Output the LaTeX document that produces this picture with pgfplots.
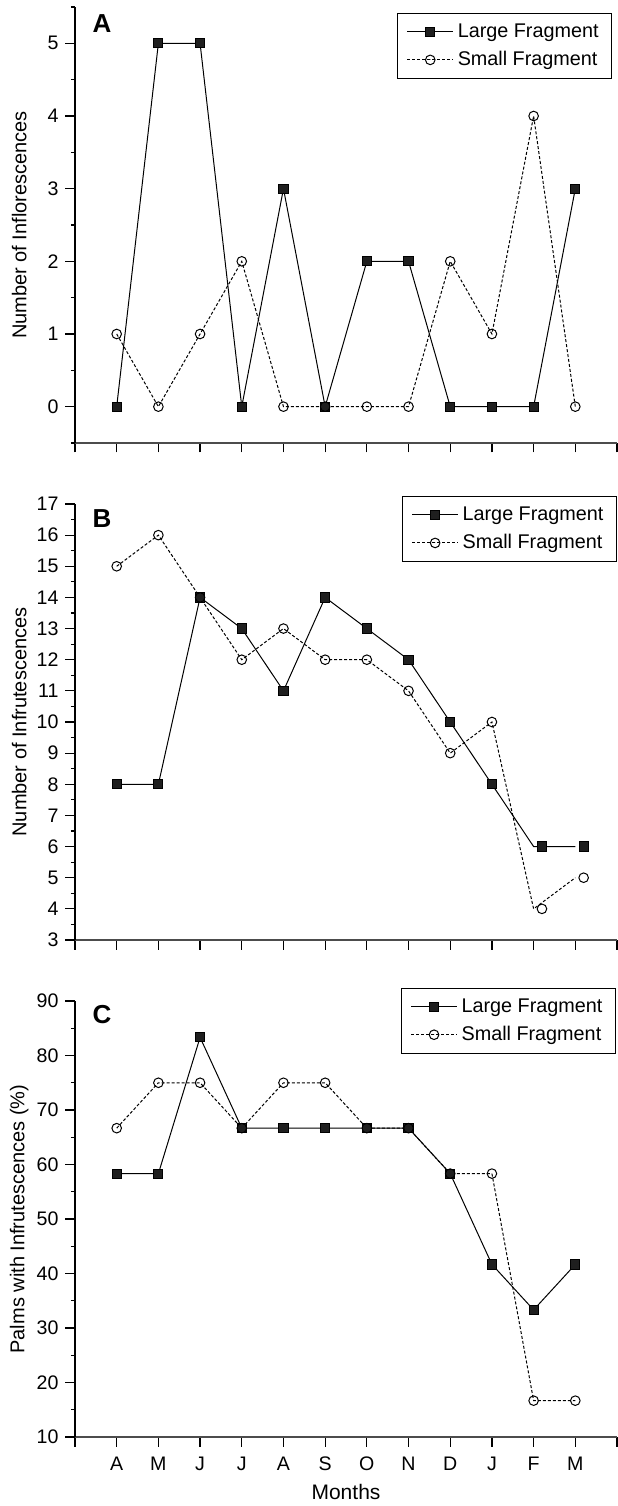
\documentclass[border=0pt]{standalone}
\usepackage{fontspec}
\setmainfont{Liberation Sans}
\usepackage{pgfplots}
\pgfplotsset{compat=1.18}

\pgfplotsset{
  panel/.style={
    scale only axis, width=271pt, height=218pt,
    axis x line*=bottom, axis y line*=left,
    xmin=0, xmax=13, xtick={0,...,13},
    tick align=outside, major tick length=4.75pt, minor tick length=2pt,
    tick style={black, line width=0.6pt},
    x axis line style={line width=1pt, black!70},
    y axis line style={line width=0.75pt},
    ticklabel style={font=\fontsize{9.8}{11}\selectfont},
    xticklabel style={yshift=-1.5pt},
    /pgf/number format/assume math mode=true,
    label style={font=\fontsize{10.5}{12}\selectfont},
    every axis y label/.style={at={(axis description cs:-0.103,0.5)}, rotate=90, anchor=center},
    legend style={draw=black, line width=0.5pt, font=\fontsize{9.9}{11}\selectfont,
      inner xsep=4.5pt, inner ysep=3pt, row sep=1.5pt,
      /tikz/every even column/.append style={column sep=3.5pt}},
    legend cell align=left,
    legend image code/.code={\draw[mark repeat=2,mark phase=2,#1] plot coordinates {(0pt,0pt) (11.5pt,0pt) (23pt,0pt)};},
  },
  large/.style={black, line width=0.5pt, mark=square*, mark size=2.3pt, mark options={solid, fill=black!88}},
  small/.style={black, line width=0.5pt, dash pattern=on 1.5pt off 1pt, mark=o, mark size=2.4pt, mark options={solid, fill=white}},
}

\begin{document}
\begin{tikzpicture}
% A: inflorescences
\begin{axis}[panel, at={(0,0)},
  ymin=-0.5, ymax=5.5, ytick={0,...,5}, minor ytick={-0.5,0.5,...,5.5},
  xticklabels={},
  ylabel={Number of Inflorescences},
  legend style={at={(rel axis cs:0.991,0.986)}, anchor=north east}]
\coordinate (tr) at (rel axis cs:1,1);
\addplot[large] coordinates {(1,0) (2,5) (3,5) (4,0) (5,3) (6,0) (7,2) (8,2) (9,0) (10,0) (11,0) (12,3)};
\addplot[small] coordinates {(1,1) (2,0) (3,1) (4,2) (5,0) (6,0) (7,0) (8,0) (9,2) (10,1) (11,4) (12,0)};
\legend{Large Fragment, Small Fragment}
\node[font=\bfseries\fontsize{13}{13}\selectfont] at (rel axis cs:0.05,0.963) {A};
\end{axis}

% B: infrutescences
\begin{axis}[panel, at={(0,-248.5pt)},
  ymin=3, ymax=17, ytick={3,...,17}, minor ytick={3.5,4.5,...,16.5},
  xticklabels={},
  ylabel={Number of Infrutescences},
  legend style={at={(rel axis cs:1.0,1.018)}, anchor=north east}]
\addlegendimage{large}\addlegendentry{Large Fragment}
\addlegendimage{small}\addlegendentry{Small Fragment}
\addplot[large, mark=none, forget plot] coordinates {(1,8) (2,8) (3,14) (4,13) (5,11) (6,14) (7,13) (8,12) (9,10) (10,8) (11,6) (12,6)};
\addplot[small, mark=none, forget plot] coordinates {(1,15) (2,16) (3,14) (4,12) (5,13) (6,12) (7,12) (8,11) (9,9) (10,10) (11,4) (12,5)};
\addplot[large, only marks, forget plot] coordinates {(1,8) (2,8) (3,14) (4,13) (5,11) (6,14) (7,13) (8,12) (9,10) (10,8) (11.2,6) (12.2,6)};
\addplot[small, only marks, forget plot] coordinates {(1,15) (2,16) (3,14) (4,12) (5,13) (6,12) (7,12) (8,11) (9,9) (10,10) (11.2,4) (12.2,5)};
\node[font=\bfseries\fontsize{13}{13}\selectfont] at (rel axis cs:0.05,0.966) {B};
\end{axis}

% C: palms with infrutescences
\begin{axis}[panel, at={(0,-497pt)},
  ymin=10, ymax=90, ytick={10,20,...,90}, minor ytick={15,25,...,85},
  xticklabels={,A,M,J,J,A,S,O,N,D,J,F,M,},
  xlabel={Months}, ylabel={Palms with Infrutescences (\%)},
  legend style={at={(rel axis cs:0.998,1.030)}, anchor=north east}]
\coordinate (bl) at (rel axis cs:0,0);
\addplot[large] coordinates {(1,58.33) (2,58.33) (3,83.33) (4,66.67) (5,66.67) (6,66.67) (7,66.67) (8,66.67) (9,58.33) (10,41.67) (11,33.33) (12,41.67)};
\addplot[small] coordinates {(1,66.67) (2,75) (3,75) (4,66.67) (5,75) (6,75) (7,66.67) (8,66.67) (9,58.33) (10,58.33) (11,16.67) (12,16.67)};
\legend{Large Fragment, Small Fragment}
\node[font=\bfseries\fontsize{13}{13}\selectfont] at (rel axis cs:0.05,0.968) {C};
\end{axis}

\pgfresetboundingbox
\path ([shift={(-37.5pt,-34.5pt)}]bl) rectangle ([shift={(0.5pt,3.5pt)}]tr);
\end{tikzpicture}
\end{document}
